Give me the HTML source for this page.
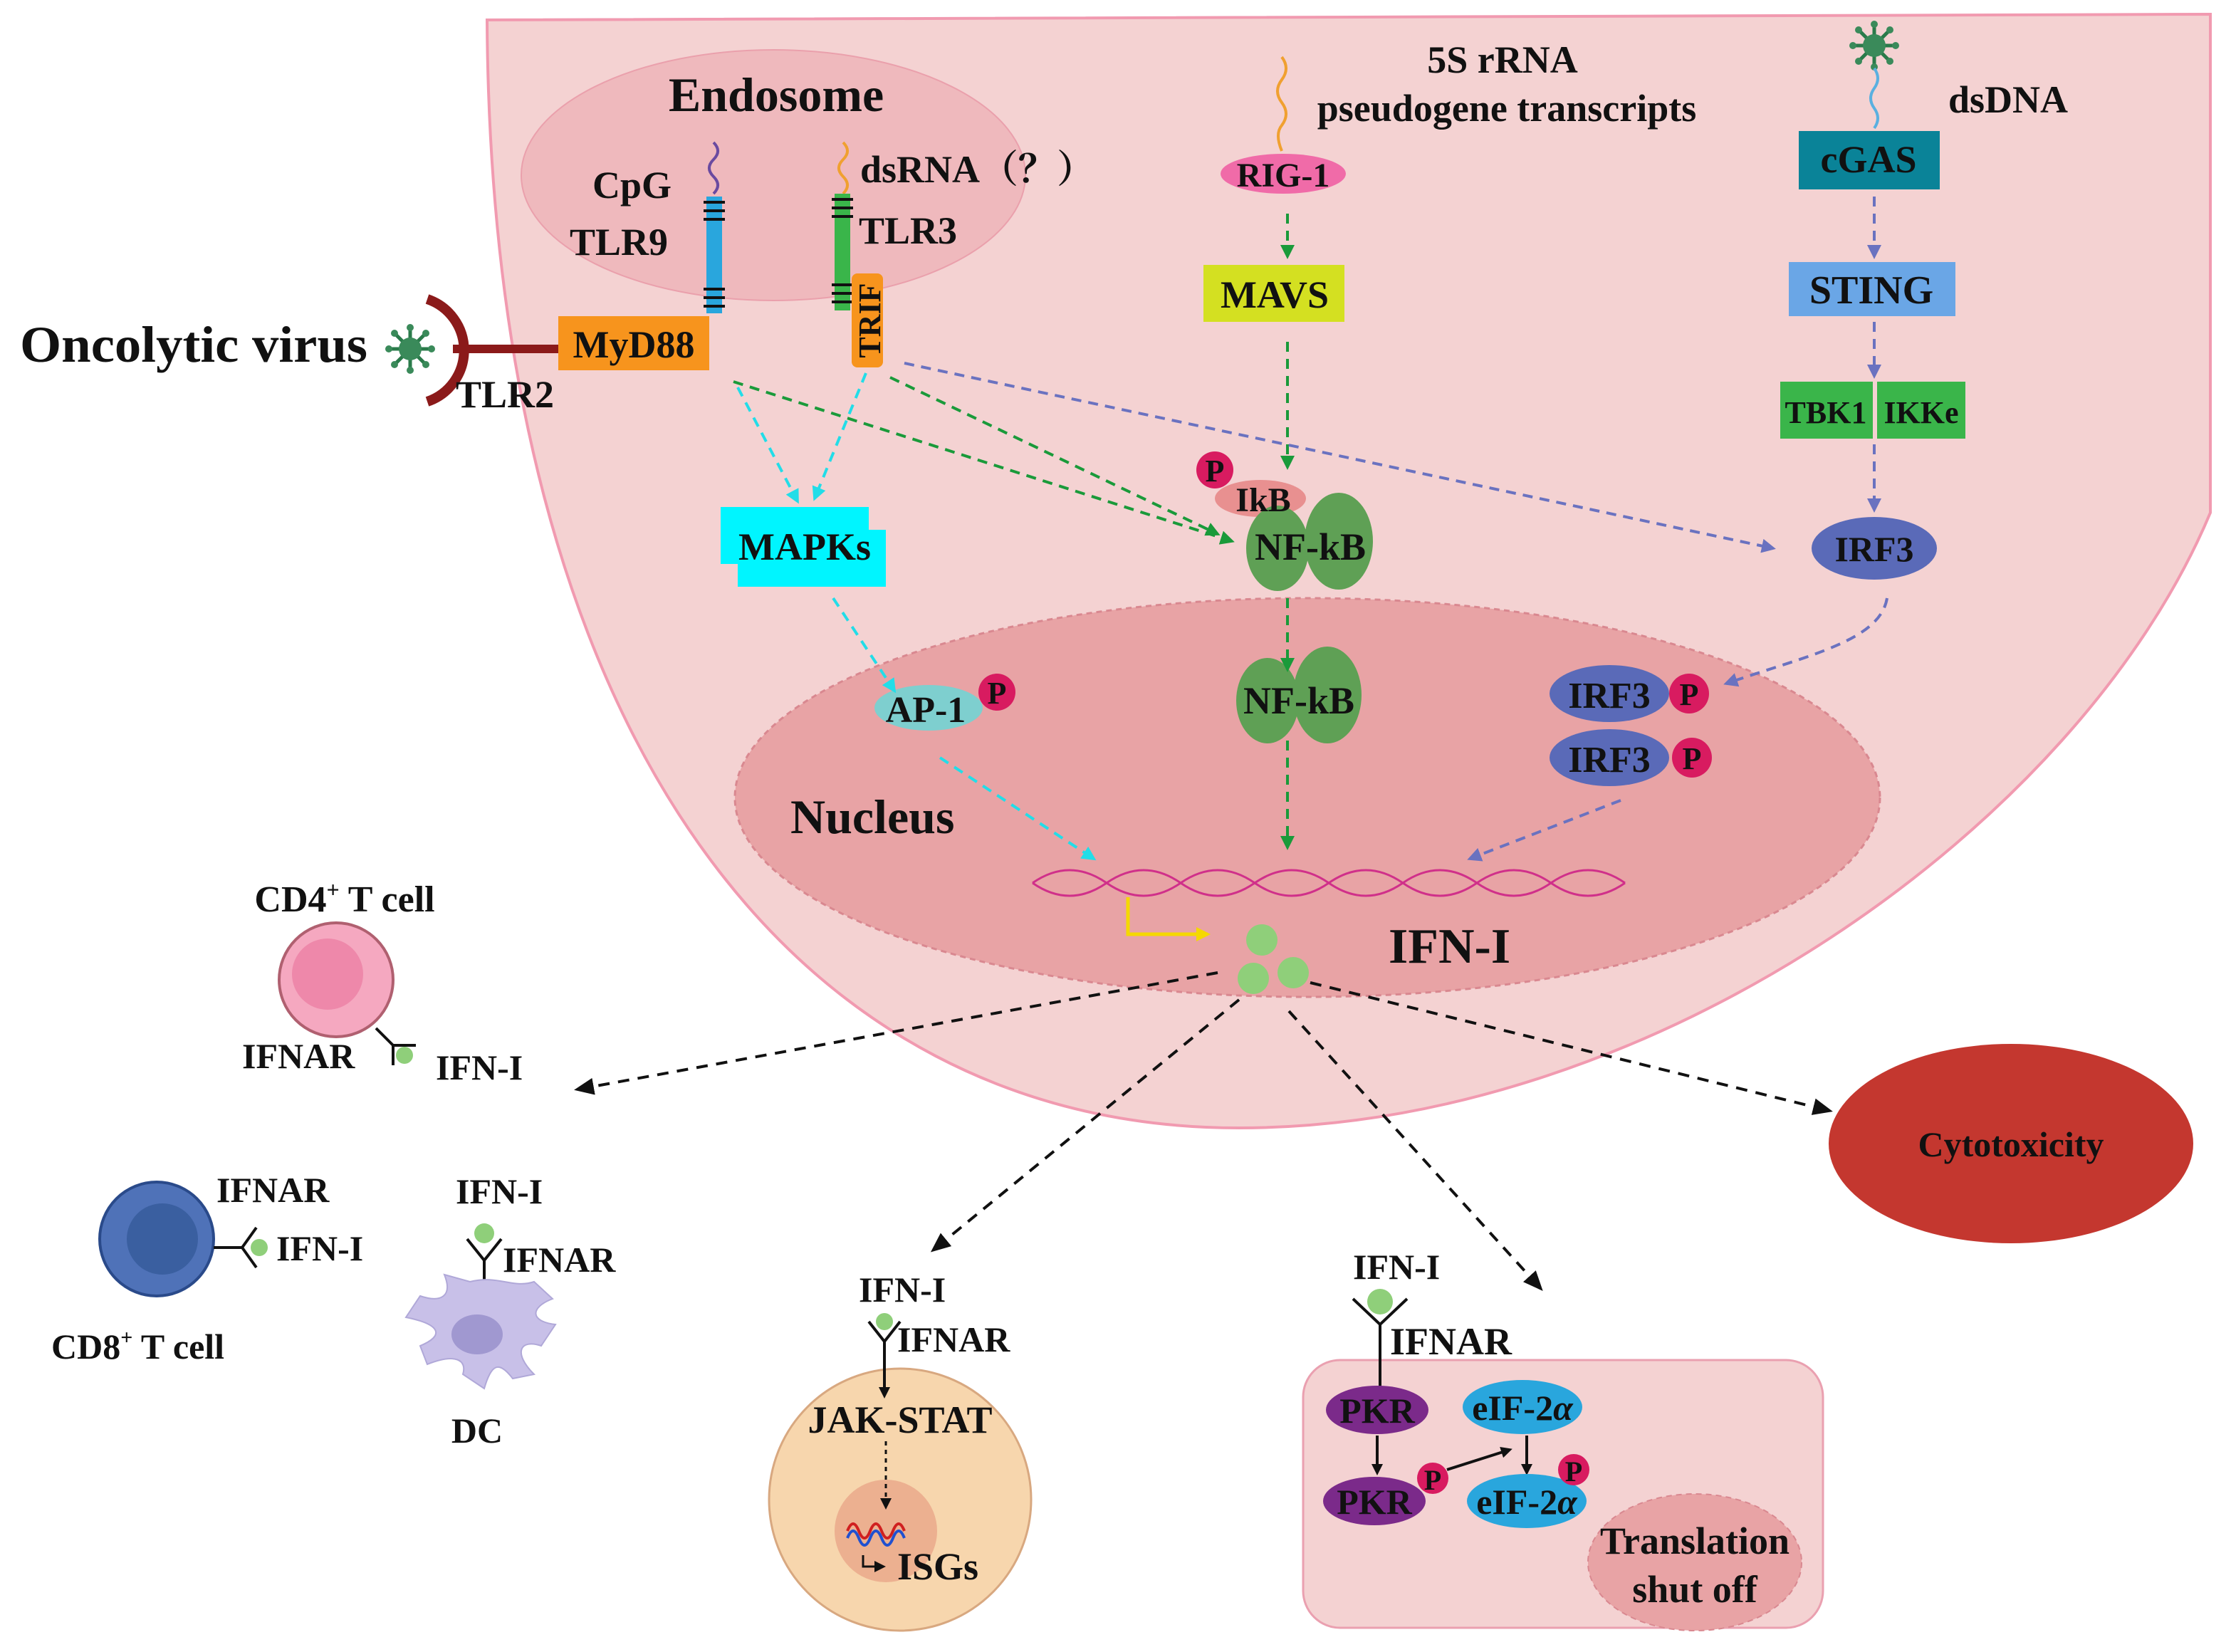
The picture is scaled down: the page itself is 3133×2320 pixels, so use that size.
<!DOCTYPE html>
<html><head><meta charset="utf-8"><style>
html,body{margin:0;padding:0;background:#fff}
svg{display:block}
text{font-family:"Liberation Serif","Noto Serif CJK SC",serif;font-weight:bold;fill:#111}
</style></head><body>
<svg width="3133" height="2320" viewBox="0 0 1566.5 1160" xmlns="http://www.w3.org/2000/svg">
<defs>
<marker id="ag" markerWidth="10" markerHeight="10" refX="8" refY="5" orient="auto" markerUnits="userSpaceOnUse"><path d="M0,0 L10,5 L0,10 z" fill="#1a9a3a"/></marker>
<marker id="ab" markerWidth="10" markerHeight="10" refX="8" refY="5" orient="auto" markerUnits="userSpaceOnUse"><path d="M0,0 L10,5 L0,10 z" fill="#6a72c0"/></marker>
<marker id="ac" markerWidth="10" markerHeight="10" refX="8" refY="5" orient="auto" markerUnits="userSpaceOnUse"><path d="M0,0 L10,5 L0,10 z" fill="#22dde8"/></marker>
<marker id="ak" markerWidth="14" markerHeight="12" refX="12" refY="6" orient="auto" markerUnits="userSpaceOnUse"><path d="M0,0 L14,6 L0,12 z" fill="#111"/></marker>
<marker id="ay" markerWidth="10" markerHeight="10" refX="8" refY="5" orient="auto" markerUnits="userSpaceOnUse"><path d="M0,0 L10,5 L0,10 z" fill="#f5d800"/></marker>
<marker id="as" markerWidth="8" markerHeight="8" refX="6" refY="4" orient="auto" markerUnits="userSpaceOnUse"><path d="M0,0 L8,4 L0,8 z" fill="#111"/></marker>
<g id="virus"><g stroke="#2a7a4a" stroke-width="2.5"><line x1="-14" y1="0" x2="14" y2="0"/><line x1="0" y1="-14" x2="0" y2="14"/><line x1="-10" y1="-10" x2="10" y2="10"/><line x1="-10" y1="10" x2="10" y2="-10"/></g><circle r="8" fill="#3a8a5a"/><g fill="#3a8a5a"><circle cx="-15" cy="0" r="2.5"/><circle cx="15" cy="0" r="2.5"/><circle cx="0" cy="-15" r="2.5"/><circle cx="0" cy="15" r="2.5"/><circle cx="-11" cy="-11" r="2.5"/><circle cx="11" cy="11" r="2.5"/><circle cx="-11" cy="11" r="2.5"/><circle cx="11" cy="-11" r="2.5"/></g></g>
</defs>
<!-- cell -->
<path d="M342,14 L1552,10 L1552,360 C1460,580 1160,792 870,792 C560,792 345,520 342,14 Z" fill="#f4d2d2" stroke="#f19ab0" stroke-width="2"/>
<ellipse cx="543" cy="123" rx="177" ry="88" fill="#efb9bd" stroke="#eaa0ac" stroke-width="1"/>
<ellipse cx="918" cy="560" rx="402" ry="140" fill="#e8a3a5" stroke="#d98890" stroke-width="1.5" stroke-dasharray="4,3"/>
<!-- endosome texts -->
<text x="545" y="78" font-size="34" text-anchor="middle">Endosome</text>
<text x="416" y="139" font-size="27">CpG</text>
<text x="400" y="179" font-size="27">TLR9</text>
<text x="604" y="128" font-size="27">dsRNA（？）</text>
<text x="603" y="171" font-size="27">TLR3</text>
<!-- TLR9 -->
<path d="M501,100 q6,6 0,12 q-6,6 0,12 q6,6 0,12" stroke="#6a4aa0" stroke-width="2" fill="none"/>
<rect x="496" y="138" width="11" height="82" fill="#29a6dd"/>
<g stroke="#111" stroke-width="2"><line x1="494" y1="142" x2="509" y2="142"/><line x1="494" y1="148" x2="509" y2="148"/><line x1="494" y1="154" x2="509" y2="154"/><line x1="494" y1="203" x2="509" y2="203"/><line x1="494" y1="209" x2="509" y2="209"/><line x1="494" y1="215" x2="509" y2="215"/></g>
<!-- TLR3 -->
<path d="M592,100 q6,6 0,12 q-6,6 0,12 q6,6 0,12" stroke="#f0a030" stroke-width="2" fill="none"/>
<rect x="586" y="136" width="11" height="82" fill="#3ab54a"/>
<g stroke="#111" stroke-width="2"><line x1="584" y1="140" x2="599" y2="140"/><line x1="584" y1="146" x2="599" y2="146"/><line x1="584" y1="152" x2="599" y2="152"/><line x1="584" y1="200" x2="599" y2="200"/><line x1="584" y1="206" x2="599" y2="206"/><line x1="584" y1="212" x2="599" y2="212"/></g>
<rect x="598" y="192" width="22" height="66" rx="4" fill="#f7941d"/>
<text transform="translate(618,225) rotate(-90)" font-size="22" text-anchor="middle">TRIF</text>
<rect x="392" y="222" width="106" height="38" fill="#f7941d"/>
<text x="445" y="251" font-size="27" text-anchor="middle">MyD88</text>
<!-- oncolytic virus -->
<text x="14" y="254" font-size="36" textLength="244" lengthAdjust="spacingAndGlyphs">Oncolytic virus</text>
<use href="#virus" x="288" y="245"/>
<path d="M300,210 A38,38 0 0 1 300,282" stroke="#8b1a1a" stroke-width="7" fill="none"/>
<line x1="318" y1="245" x2="392" y2="245" stroke="#8b1a1a" stroke-width="6"/>
<text x="320" y="286" font-size="27">TLR2</text>
<!-- RIG-1 -->
<path d="M900,40 q6,8 0,16 q-6,8 0,16 q6,8 0,16 q-5,6 0,18" stroke="#f0a030" stroke-width="2" fill="none"/>
<text x="1055" y="51" font-size="27" text-anchor="middle">5S rRNA</text>
<text x="1058" y="85" font-size="27" text-anchor="middle">pseudogene transcripts</text>
<ellipse cx="901" cy="122" rx="44" ry="14" fill="#f06ba8"/>
<text x="901" y="131" font-size="24" text-anchor="middle">RIG-1</text>
<rect x="845" y="186" width="99" height="40" fill="#d4e021"/>
<text x="895" y="216" font-size="27" text-anchor="middle">MAVS</text>
<!-- cGAS -->
<use href="#virus" x="1316" y="32"/>
<path d="M1316,48 q5,7 0,14 q-5,7 0,14 q5,7 0,14" stroke="#5ab0e0" stroke-width="2" fill="none"/>
<text x="1368" y="79" font-size="27">dsDNA</text>
<rect x="1263" y="92" width="99" height="41" fill="#0a8398"/>
<text x="1312" y="121" font-size="27" text-anchor="middle">cGAS</text>
<rect x="1256" y="184" width="117" height="38" fill="#6aa6e6"/>
<text x="1314" y="213" font-size="28" text-anchor="middle">STING</text>
<rect x="1250" y="268" width="65" height="40" fill="#3ab54a"/>
<rect x="1318" y="268" width="62" height="40" fill="#3ab54a"/>
<text x="1282" y="297" font-size="22" text-anchor="middle">TBK1</text>
<text x="1349" y="297" font-size="22" text-anchor="middle">IKKe</text>
<ellipse cx="1316" cy="385" rx="44" ry="22" fill="#5a6ab8"/>
<text x="1316" y="394" font-size="25" text-anchor="middle">IRF3</text>
<!-- MAPKs -->
<rect x="506" y="356" width="104" height="40" fill="#00f5ff"/>
<rect x="518" y="372" width="104" height="40" fill="#00f5ff"/>
<text x="565" y="393" font-size="27" text-anchor="middle">MAPKs</text>
<!-- IkB NFkB -->
<ellipse cx="885" cy="350" rx="32" ry="13" fill="#e89090"/>
<circle cx="853" cy="330" r="13" fill="#d81b60"/><text x="853" y="338" font-size="22" text-anchor="middle">P</text>
<ellipse cx="897" cy="385" rx="22" ry="30" fill="#5fa055"/>
<ellipse cx="940" cy="380" rx="24" ry="34" fill="#5fa055"/>
<text x="887" y="359" font-size="24" text-anchor="middle">IkB</text>
<text x="920" y="393" font-size="27" text-anchor="middle">NF-kB</text>
<!-- nucleus contents -->
<ellipse cx="890" cy="492" rx="22" ry="30" fill="#5fa055"/>
<ellipse cx="932" cy="488" rx="24" ry="34" fill="#5fa055"/>
<text x="912" y="501" font-size="27" text-anchor="middle">NF-kB</text>
<ellipse cx="652" cy="497" rx="38" ry="16" fill="#7ecfcf"/>
<text x="650" y="507" font-size="26" text-anchor="middle">AP-1</text>
<circle cx="700" cy="486" r="13" fill="#d81b60"/><text x="700" y="494" font-size="22" text-anchor="middle">P</text>
<ellipse cx="1130" cy="487" rx="42" ry="20" fill="#5a6ab8"/>
<text x="1130" y="497" font-size="26" text-anchor="middle">IRF3</text>
<circle cx="1186" cy="487" r="14" fill="#d81b60"/><text x="1186" y="495" font-size="22" text-anchor="middle">P</text>
<ellipse cx="1130" cy="532" rx="42" ry="20" fill="#5a6ab8"/>
<text x="1130" y="542" font-size="26" text-anchor="middle">IRF3</text>
<circle cx="1188" cy="532" r="14" fill="#d81b60"/><text x="1188" y="540" font-size="22" text-anchor="middle">P</text>
<text x="555" y="585" font-size="34">Nucleus</text>
<text x="975" y="676" font-size="35">IFN-I</text>
<!-- DNA -->
<path d="M725,620 q26,-18 52,0 t52,0 t52,0 t52,0 t52,0 t52,0 t52,0 t52,0" stroke="#d0308a" stroke-width="1.5" fill="none"/>
<path d="M725,620 q26,18 52,0 t52,0 t52,0 t52,0 t52,0 t52,0 t52,0 t52,0" stroke="#d0308a" stroke-width="1.5" fill="none"/>
<path d="M792,630 L792,656 L848,656" stroke="#f5d800" stroke-width="2.5" fill="none" marker-end="url(#ay)"/>
<circle cx="886" cy="660" r="11" fill="#8fcf7a"/><circle cx="880" cy="687" r="11" fill="#8fcf7a"/><circle cx="908" cy="683" r="11" fill="#8fcf7a"/>
<!-- signalling arrows -->
<g stroke-width="2" stroke-dasharray="7,5" fill="none">
<path d="M904,150 L904,180" stroke="#1a9a3a" marker-end="url(#ag)"/>
<path d="M904,240 L904,328" stroke="#1a9a3a" marker-end="url(#ag)"/>
<path d="M904,420 L904,470" stroke="#1a9a3a" marker-end="url(#ag)"/>
<path d="M904,520 L904,595" stroke="#1a9a3a" marker-end="url(#ag)"/>
<path d="M515,268 L865,380" stroke="#1a9a3a" marker-end="url(#ag)"/>
<path d="M625,265 L855,375" stroke="#1a9a3a" marker-end="url(#ag)"/>
<path d="M635,255 L1245,385" stroke="#6a72c0" marker-end="url(#ab)"/>
<path d="M1316,138 L1316,180" stroke="#6a72c0" marker-end="url(#ab)"/>
<path d="M1316,226 L1316,264" stroke="#6a72c0" marker-end="url(#ab)"/>
<path d="M1316,312 L1316,358" stroke="#6a72c0" marker-end="url(#ab)"/>
<path d="M1325,420 C1320,450 1270,460 1212,480" stroke="#6a72c0" marker-end="url(#ab)"/>
<path d="M1138,562 L1032,603" stroke="#6a72c0" marker-end="url(#ab)"/>
<path d="M518,272 L560,352" stroke="#22dde8" marker-end="url(#ac)"/>
<path d="M608,262 L572,350" stroke="#22dde8" marker-end="url(#ac)"/>
<path d="M585,420 L628,485" stroke="#22dde8" marker-end="url(#ac)"/>
<path d="M660,532 L768,603" stroke="#22dde8" marker-end="url(#ac)"/>
</g>
<!-- black dashed arrows -->
<g stroke="#111" stroke-width="2" stroke-dasharray="8,6" fill="none">
<path d="M855,683 L405,765" marker-end="url(#ak)"/>
<path d="M870,702 L655,878" marker-end="url(#ak)"/>
<path d="M905,710 L1082,905" marker-end="url(#ak)"/>
<path d="M920,690 L1285,780" marker-end="url(#ak)"/>
</g>
<!-- cytotoxicity -->
<ellipse cx="1412" cy="803" rx="128" ry="70" fill="#c4372f"/>
<text x="1412" y="812" font-size="25" text-anchor="middle">Cytotoxicity</text>
<!-- CD4 -->
<text x="242" y="640" font-size="26" text-anchor="middle">CD4<tspan font-size="16" dy="-10">+</tspan><tspan dy="10"> T cell</tspan></text>
<circle cx="236" cy="688" r="40" fill="#f5a8c0" stroke="#b06070" stroke-width="2"/>
<circle cx="230" cy="684" r="25" fill="#ee88aa"/>
<path d="M264,722 L276,734 M276,734 L276,748 M276,734 L292,734" stroke="#111" stroke-width="2" fill="none"/>
<circle cx="284" cy="741" r="6" fill="#8fcf7a"/>
<text x="170" y="750" font-size="25">IFNAR</text>
<text x="306" y="758" font-size="25">IFN-I</text>
<!-- CD8 -->
<circle cx="110" cy="870" r="40" fill="#4f72b8" stroke="#2a4a8a" stroke-width="2"/>
<circle cx="114" cy="870" r="25" fill="#3a5fa0"/>
<path d="M150,876 L170,876 M170,876 L180,862 M170,876 L180,890" stroke="#111" stroke-width="2" fill="none"/>
<circle cx="182" cy="876" r="6" fill="#8fcf7a"/>
<text x="152" y="844" font-size="25">IFNAR</text>
<text x="194" y="885" font-size="25">IFN-I</text>
<text x="36" y="954" font-size="25">CD8<tspan font-size="15" dy="-10">+</tspan><tspan dy="10"> T cell</tspan></text>
<!-- DC -->
<text x="320" y="845" font-size="25">IFN-I</text>
<circle cx="340" cy="866" r="7" fill="#8fcf7a"/>
<path d="M328,870 L340,885 L352,870 M340,885 L340,900" stroke="#111" stroke-width="2" fill="none"/>
<text x="353" y="893" font-size="25">IFNAR</text>
<path d="M330,900 C350,895 360,905 375,900 L388,912 C372,918 372,928 390,930 L380,945 C365,940 360,950 375,965 L360,968 C350,955 345,958 340,975 L325,965 C328,955 320,950 300,958 L295,945 C312,938 310,930 285,925 L295,910 C310,915 318,910 312,895 Z" fill="#c8c0e8" stroke="#b0a8d8"/>
<ellipse cx="335" cy="937" rx="18" ry="14" fill="#a098d0"/>
<text x="335" y="1013" font-size="25" text-anchor="middle">DC</text>
<!-- JAK-STAT -->
<text x="603" y="914" font-size="25">IFN-I</text>
<circle cx="621" cy="928" r="6" fill="#8fcf7a"/>
<path d="M610,928 L621,942 L632,928 M621,942 L621,955" stroke="#111" stroke-width="2" fill="none"/>
<text x="630" y="949" font-size="25">IFNAR</text>
<circle cx="632" cy="1053" r="92" fill="#f7d6ad" stroke="#d8a880" stroke-width="1.5"/>
<line x1="621" y1="955" x2="621" y2="980" stroke="#111" stroke-width="2" marker-end="url(#as)"/>
<text x="632" y="1006" font-size="27" text-anchor="middle">JAK-STAT</text>
<circle cx="622" cy="1075" r="36" fill="#ecb090"/>
<line x1="622" y1="1012" x2="622" y2="1058" stroke="#111" stroke-width="1.5" stroke-dasharray="3,3" marker-end="url(#as)"/>
<path d="M595,1075 q4,-10 8,0 t8,0 t8,0 t8,0 t8,0" stroke="#d02020" stroke-width="2" fill="none"/>
<path d="M595,1080 q4,-10 8,0 t8,0 t8,0 t8,0 t8,0" stroke="#2050d0" stroke-width="2" fill="none"/>
<path d="M606,1092 L606,1100 L620,1100" stroke="#111" stroke-width="1.5" fill="none" marker-end="url(#as)"/>
<text x="630" y="1109" font-size="27">ISGs</text>
<!-- PKR box -->
<rect x="915" y="955" width="365" height="188" rx="26" fill="#f4d2d2" stroke="#eaa0b0" stroke-width="1.5"/>
<text x="950" y="898" font-size="25">IFN-I</text>
<circle cx="969" cy="914" r="9" fill="#8fcf7a"/>
<path d="M950,912 L969,930 L988,912 M969,930 L969,975" stroke="#111" stroke-width="2" fill="none"/>
<text x="976" y="951" font-size="27">IFNAR</text>
<ellipse cx="967" cy="990" rx="36" ry="17" fill="#7b2a8a"/>
<text x="967" y="999" font-size="25" text-anchor="middle">PKR</text>
<ellipse cx="965" cy="1054" rx="36" ry="17" fill="#7b2a8a"/>
<text x="965" y="1063" font-size="25" text-anchor="middle">PKR</text>
<line x1="967" y1="1008" x2="967" y2="1034" stroke="#111" stroke-width="2" marker-end="url(#as)"/>
<circle cx="1006" cy="1038" r="11" fill="#d81b60"/><text x="1006" y="1046" font-size="20" text-anchor="middle">P</text>
<line x1="1016" y1="1032" x2="1060" y2="1018" stroke="#111" stroke-width="2" marker-end="url(#as)"/>
<ellipse cx="1069" cy="988" rx="42" ry="19" fill="#29a6dd"/>
<text x="1069" y="997" font-size="25" text-anchor="middle">eIF-2<tspan font-style="italic">α</tspan></text>
<line x1="1072" y1="1008" x2="1072" y2="1034" stroke="#111" stroke-width="2" marker-end="url(#as)"/>
<ellipse cx="1072" cy="1054" rx="42" ry="19" fill="#29a6dd"/>
<text x="1072" y="1063" font-size="25" text-anchor="middle">eIF-2<tspan font-style="italic">α</tspan></text>
<circle cx="1105" cy="1032" r="11" fill="#d81b60"/><text x="1105" y="1040" font-size="20" text-anchor="middle">P</text>
<ellipse cx="1190" cy="1097" rx="75" ry="48" fill="#e8a3a5" stroke="#d98890" stroke-dasharray="4,3"/>
<text x="1190" y="1091" font-size="27" text-anchor="middle">Translation</text>
<text x="1190" y="1125" font-size="27" text-anchor="middle">shut off</text>
</svg>
</body></html>
